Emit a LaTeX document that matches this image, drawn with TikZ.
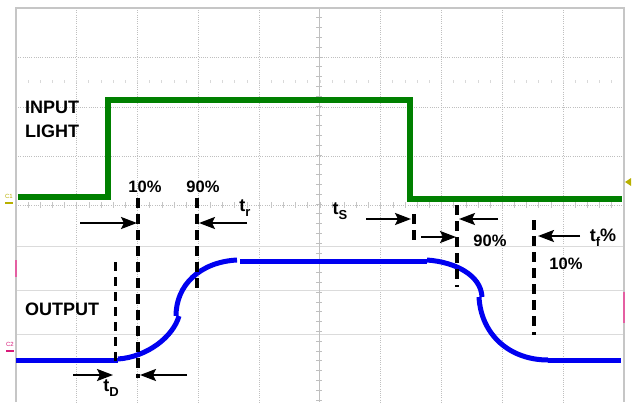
\documentclass[tikz,border=0pt]{standalone}
\usepackage{fontspec}
\setmainfont{Liberation Sans}
\usetikzlibrary{arrows.meta,calc}
\definecolor{scopegreen}{HTML}{008000}
\definecolor{scopeblue}{HTML}{0000F0}
\definecolor{cyel}{HTML}{B8B000}
\definecolor{cpink}{HTML}{D81B7A}
\begin{document}
\begin{tikzpicture}[x=1pt,y=-1pt,
  gridline/.style={draw=gray!50, line width=0.7pt, dash pattern=on 1pt off 1.2pt},
  lowgrid/.style={draw=gray!28, line width=1pt},
  frame/.style={draw=gray!45, line width=1.2pt},
  axis/.style={draw=gray!50, line width=1pt},
  inp/.style={draw=scopegreen, line width=5.5pt, line join=miter},
  outp/.style={draw=scopeblue, line width=5pt},
  marker/.style={draw=black, line width=3.4pt, dash pattern=on 10pt off 6pt},
  thinmarker/.style={draw=black, line width=3pt, dash pattern=on 9pt off 6pt},
  arr/.style={draw=black, line width=2.2pt, -{Stealth[length=16pt,width=12pt,inset=3pt]}},
  lbl/.style={font=\bfseries\fontsize{16.5}{16.5}\selectfont, inner sep=0pt},
  big/.style={font=\bfseries\fontsize{18}{18}\selectfont, inner sep=0pt, anchor=west},
  tlbl/.style={font=\bfseries\fontsize{18}{18}\selectfont, inner sep=0pt},
  tiny/.style={font=\fontsize{6}{6}\selectfont, inner sep=0pt},
]
\useasboundingbox (0,0) rectangle (635,402);
\fill[white] (0,0) rectangle (635,402);

% ---------- graticule ----------
\foreach \i in {1,2,3,4,6,7,8,9} {
  \draw[gridline] ({16+60.8*\i},8) -- ({16+60.8*\i},402);
}
\foreach \y in {57,107,156} {
  \draw[gridline] (16,\y) -- (624,\y);
}
\foreach \y in {246,290,334} {
  \draw[lowgrid] (16,\y) -- (624,\y);
}
% faint sub-division dots row
\foreach \i in {1,...,49} {
  \draw[gray!30, line width=1pt] ({16+12.16*\i},80) -- ({16+12.16*\i},83);
}
% central horizontal axis with ticks
\draw[gridline] (16,205) -- (624,205);
\foreach \i in {1,...,49} {
  \draw[gray!45, line width=0.8pt] ({16+12.16*\i},202) -- ({16+12.16*\i},208);
}
% central vertical axis with ticks
\draw[axis] (319,8) -- (319,402);
\foreach \j in {1,...,40} {
  \draw[gray!50, line width=0.8pt] (316,{8+9.8*\j}) -- (322,{8+9.8*\j});
}
% frame
\draw[frame] (16,402) -- (16,8) -- (624,8) -- (624,402);

% scope channel markers
\node[tiny, text=cyel] (c1) at (9,196) {C1};
\draw[cyel, line width=1.5pt] (5,203) -- (13,203);
\node[tiny, text=cpink] (c2) at (10,344) {C2};
\draw[cpink, line width=1.5pt] (6,351) -- (14,351);
\draw[cpink!70, line width=2pt] (16,260) -- (16,277);
\draw[cpink!70, line width=2pt] (624,292) -- (624,323);
\fill[cyel] (625,182) -- (631,178) -- (631,186) -- cycle;

% ---------- traces ----------
\draw[inp] (18,197) -- (108,197) -- (108,100) -- (410,100) -- (410,199) -- (622,199);

\draw[outp] (16,360) -- (118,360);
\draw[outp] (118,359) .. controls (147,357) and (173,337) .. (179,316);
\draw[outp] (176,316) .. controls (176,285) and (200,262) .. (237,260);
\draw[outp] (240,261) -- (427,261);
\draw[outp] (427,260) .. controls (455,262) and (481,275) .. (482,297);
\draw[outp] (479,297) .. controls (481,335) and (510,360) .. (548,360);
\draw[outp] (548,360) -- (621,360);

% ---------- timing markers ----------
\coordinate (d1t) at (115,262); \coordinate (d1b) at (115,366);
\coordinate (d2t) at (138,198); \coordinate (d2b) at (138,378);
\coordinate (d3t) at (197,198); \coordinate (d3b) at (197,290);
\coordinate (d4t) at (414,214); \coordinate (d4b) at (414,245);
\coordinate (d5t) at (457,205); \coordinate (d5b) at (457,287);
\coordinate (d6t) at (534,220); \coordinate (d6b) at (534,335);

\draw[thinmarker] (d1t) -- (d1b);
\draw[marker] (d2t) -- (d2b);
\draw[marker] (d3t) -- (d3b);
\draw[marker] (d4t) -- (d4b);
\draw[marker] (d5t) -- (d5b);
\draw[marker] (d6t) -- (d6b);

% arrows
\coordinate (a1) at (80,223);
\coordinate (a2) at (247,223);
\coordinate (a3) at (366,219);
\coordinate (a4) at (421,237);
\coordinate (a5) at (498,219);
\coordinate (a6) at (580,236);
\coordinate (a7) at (73,375);
\coordinate (a8) at (187,375);

\draw[arr] (a1) -- ($(a1 -| d2t)+(-1,0)$);
\draw[arr] (a2) -- ($(a2 -| d3t)+(2,0)$);
\draw[arr] (a3) -- ($(a3 -| d4t)+(-3,0)$);
\draw[arr] (a4) -- ($(a4 -| d5t)+(-1,0)$);
\draw[arr] (a5) -- ($(a5 -| d5t)+(2,0)$);
\draw[arr] (a6) -- ($(a6 -| d6t)+(4,0)$);
\draw[arr] (a7) -- ($(a7 -| d1t)+(-2,0)$);
\draw[arr] (a8) -- ($(a8 -| d2t)+(2,0)$);

% ---------- labels ----------
\node[big] (input) at (25,107) {INPUT};
\node[big] (light) at (25,131) {LIGHT};
\node[big] (output) at (25,309) {OUTPUT};

\node[lbl] (p10a) at (145,187) {10\%};
\node[lbl] (p90a) at (203,187) {90\%};
\node[lbl] (p90b) at (490,241) {90\%};
\node[lbl] (p10b) at (566,264) {10\%};

\node[tlbl] (tr) at (245,208) {t\raisebox{-5pt}{\fontsize{13}{13}\selectfont r}};
\node[tlbl] (ts) at (340,211) {t\raisebox{-5pt}{\fontsize{13}{13}\selectfont S}};
\node[tlbl] (td) at (111,388) {t\raisebox{-5pt}{\fontsize{13}{13}\selectfont D}};
\node[tlbl] (tf) at (603,238) {t\raisebox{-5pt}{\fontsize{13}{13}\selectfont f}\%};
\end{tikzpicture}
\end{document}
